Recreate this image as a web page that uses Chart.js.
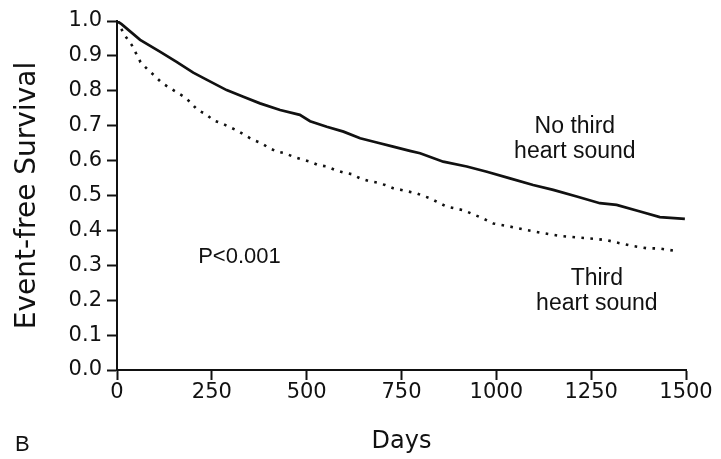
<!DOCTYPE html>
<html lang="en">

<head>
    <meta charset="UTF-8">
    <title>Event-free Survival</title>
    <script src="https://cdn.jsdelivr.net/npm/chart.js"></script>
    <style>
        body {
            margin: 0;
            padding: 0;
            background-color: #ffffff;
        }

        #survivalChart {
            display: block;
        }
    </style>
</head>

<body>
    <canvas id="survivalChart" width="721" height="459"></canvas>

    <script>
        // Kaplan-Meier estimates (days, event-free survival)
        var noS3Days = [0, 12, 61, 113, 157, 201, 236, 289, 333, 377, 430, 482, 509, 553, 597, 641, 685, 728, 772,
            799, 860, 922, 975, 1036, 1097, 1150, 1212, 1273, 1317, 1379, 1431, 1497];
        var noS3Survival = [1.000, 0.991, 0.946, 0.912, 0.883, 0.852, 0.832, 0.802, 0.783, 0.764, 0.745, 0.731, 0.713,
            0.697, 0.683, 0.664, 0.652, 0.640, 0.628, 0.621, 0.597, 0.583, 0.568, 0.549, 0.530, 0.516, 0.497, 0.478,
            0.473, 0.454, 0.438, 0.433];

        var s3Days = [0, 21, 39, 62, 80, 100, 118, 138, 157, 177, 195, 212, 235, 254, 276, 295, 315, 337, 359, 381,
            399, 421, 443, 465, 487, 509, 531, 553, 575, 597, 619, 641, 662, 685, 707, 728, 750, 790, 825, 869, 913,
            957, 992, 1036, 1080, 1124, 1168, 1212, 1256, 1291, 1326, 1361, 1396, 1431, 1467];
        var s3Survival = [1.000, 0.958, 0.931, 0.882, 0.862, 0.842, 0.823, 0.809, 0.796, 0.783, 0.766, 0.745, 0.733,
            0.715, 0.707, 0.697, 0.687, 0.673, 0.659, 0.650, 0.637, 0.626, 0.621, 0.611, 0.604, 0.597, 0.587, 0.583,
            0.573, 0.566, 0.561, 0.549, 0.542, 0.537, 0.530, 0.521, 0.516, 0.506, 0.492, 0.468, 0.458, 0.438, 0.420,
            0.411, 0.401, 0.392, 0.384, 0.380, 0.376, 0.372, 0.363, 0.355, 0.349, 0.348, 0.342];

        var xTicks = [0, 250, 500, 750, 1000, 1250, 1500];
        var yTicks = [0.0, 0.1, 0.2, 0.3, 0.4, 0.5, 0.6, 0.7, 0.8, 0.9, 1.0];

        // text placed in data space: day, survival at the first baseline
        var notes = [
            { lines: ['No third', 'heart sound'], x: 1207, y: 0.679, align: 'center', size: 23 },
            { lines: ['Third', 'heart sound'], x: 1265, y: 0.2436, align: 'center', size: 23 },
            { lines: ['P<0.001'], x: 214, y: 0.306, align: 'left', size: 22 }
        ];

        var ink = '#111111';
        var fontFamily = '"DejaVu Sans", sans-serif';
        var noteFamily = '"Liberation Sans", Arial, sans-serif';

        function toPoints(days, values) {
            return days.map(function (d, i) {
                return { x: d, y: values[i] };
            });
        }

        var notesPlugin = {
            id: 'notes',
            afterDraw: function (chart) {
                var ctx = chart.ctx;
                var xs = chart.scales.x;
                var ys = chart.scales.y;
                var lineStep = ys.getPixelForValue(0) - ys.getPixelForValue(0.0716);
                ctx.save();
                ctx.fillStyle = ink;
                ctx.textBaseline = 'alphabetic';
                notes.forEach(function (n) {
                    ctx.font = n.size + 'px ' + noteFamily;
                    ctx.textAlign = n.align;
                    var px = xs.getPixelForValue(n.x);
                    var py = ys.getPixelForValue(n.y);
                    n.lines.forEach(function (line, i) {
                        ctx.fillText(line, px, py + i * lineStep);
                    });
                });
                // panel letter
                ctx.font = '22px ' + noteFamily;
                ctx.textAlign = 'left';
                ctx.fillText('B', 15, 451);
                ctx.restore();
            }
        };

        var ctx = document.getElementById('survivalChart').getContext('2d');
        var survivalChart = new Chart(ctx, {
            type: 'line',
            data: {
                datasets: [{
                    label: 'No third heart sound',
                    data: toPoints(noS3Days, noS3Survival),
                    borderColor: ink,
                    borderWidth: 2.7,
                    pointRadius: 0,
                    tension: 0,
                    fill: false
                }, {
                    label: 'Third heart sound',
                    data: toPoints(s3Days, s3Survival),
                    borderColor: ink,
                    borderWidth: 2.6,
                    borderDash: [2.6, 6.4],
                    pointRadius: 0,
                    tension: 0,
                    fill: false
                }]
            },
            options: {
                responsive: false,
                animation: false,
                devicePixelRatio: 1,
                layout: {
                    padding: { top: 21, right: 35, left: 0, bottom: 0 }
                },
                plugins: {
                    legend: { display: false },
                    tooltip: { enabled: false }
                },
                scales: {
                    x: {
                        type: 'linear',
                        min: 0,
                        max: 1500,
                        afterFit: function (scale) { scale.height = 89; },
                        afterBuildTicks: function (scale) {
                            scale.ticks = xTicks.map(function (v) { return { value: v }; });
                        },
                        ticks: {
                            color: ink,
                            padding: 0,
                            maxRotation: 0,
                            autoSkip: false,
                            font: { family: fontFamily, size: 21 },
                            callback: function (v) { return String(v); }
                        },
                        grid: {
                            drawOnChartArea: false,
                            drawTicks: true,
                            tickLength: 10,
                            tickWidth: 2,
                            tickColor: ink
                        },
                        border: { display: true, color: ink, width: 2 },
                        title: {
                            display: true,
                            text: 'Days',
                            color: ink,
                            font: { family: fontFamily, size: 24 },
                            padding: { top: 0, bottom: 2.5 }
                        }
                    },
                    y: {
                        min: 0,
                        max: 1,
                        afterFit: function (scale) { scale.width = 117; },
                        afterBuildTicks: function (scale) {
                            scale.ticks = yTicks.map(function (v) { return { value: v }; });
                        },
                        ticks: {
                            color: ink,
                            padding: 5,
                            autoSkip: false,
                            font: { family: fontFamily, size: 21 },
                            callback: function (v) { return Number(v).toFixed(1); }
                        },
                        grid: {
                            drawOnChartArea: false,
                            drawTicks: true,
                            tickLength: 10,
                            tickWidth: 2,
                            tickColor: ink
                        },
                        border: { display: true, color: ink, width: 2 },
                        title: {
                            display: true,
                            text: 'Event-free Survival',
                            color: ink,
                            font: { family: fontFamily, size: 28 },
                            padding: { top: 10.5, bottom: 0 }
                        }
                    }
                }
            },
            plugins: [notesPlugin]
        });
    </script>
</body>

</html>
